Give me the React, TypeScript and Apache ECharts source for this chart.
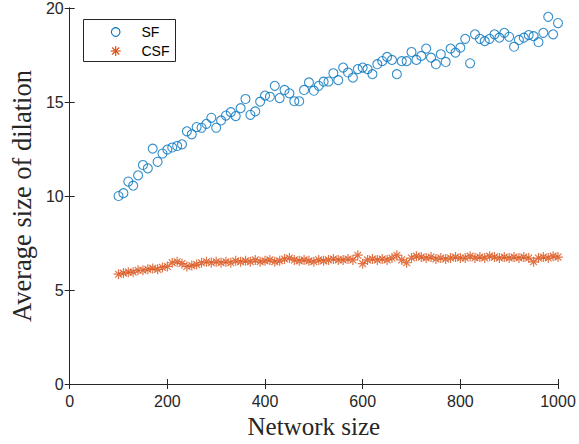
import React, { useEffect, useRef } from "react";
import * as echarts from "echarts";

const networkSizes = [
  100, 110, 120, 130, 140, 150, 160, 170, 180, 190,
  200, 210, 220, 230, 240, 250, 260, 270, 280, 290,
  300, 310, 320, 330, 340, 350, 360, 370, 380, 390,
  400, 410, 420, 430, 440, 450, 460, 470, 480, 490,
  500, 510, 520, 530, 540, 550, 560, 570, 580, 590,
  600, 610, 620, 630, 640, 650, 660, 670, 680, 690,
  700, 710, 720, 730, 740, 750, 760, 770, 780, 790,
  800, 810, 820, 830, 840, 850, 860, 870, 880, 890,
  900, 910, 920, 930, 940, 950, 960, 970, 980, 990,
  1000,
];

const sfValues = [
  10.0, 10.15, 10.77, 10.55, 11.1, 11.65, 11.47, 12.52, 11.82, 12.26,
  12.47, 12.58, 12.66, 12.75, 13.44, 13.28, 13.67, 13.63, 13.84, 14.16,
  13.63, 14.02, 14.28, 14.46, 14.25, 14.67, 15.16, 14.32, 14.5, 15.02,
  15.34, 15.28, 15.86, 15.21, 15.64, 15.46, 15.04, 15.04, 15.64, 16.04,
  15.6, 15.86, 16.08, 16.09, 16.53, 16.16, 16.83, 16.57, 16.3, 16.75,
  16.83, 16.75, 16.48, 17.01, 17.18, 17.4, 17.24, 16.48, 17.17, 17.17,
  17.66, 17.24, 17.45, 17.84, 17.36, 17.01, 17.54, 17.13, 17.84, 17.63,
  17.89, 18.36, 17.06, 18.6, 18.36, 18.24, 18.36, 18.6, 18.42, 18.68,
  18.47, 17.94, 18.3, 18.42, 18.56, 18.5, 18.18, 18.68, 19.53, 18.6,
  19.2,
];

const csfValues = [
  5.84, 5.9, 5.95, 5.95, 6.05, 6.05, 6.1, 6.15, 6.1, 6.2,
  6.25, 6.45, 6.5, 6.4, 6.25, 6.3, 6.35, 6.45, 6.5, 6.45,
  6.5, 6.45, 6.5, 6.45, 6.55, 6.5, 6.55, 6.5, 6.6, 6.5,
  6.55, 6.6, 6.5, 6.55, 6.65, 6.7, 6.6, 6.55, 6.6, 6.55,
  6.5, 6.6, 6.55, 6.6, 6.65, 6.6, 6.6, 6.65, 6.6, 6.85,
  6.4, 6.6, 6.65, 6.6, 6.65, 6.6, 6.7, 6.85, 6.6, 6.45,
  6.7, 6.8, 6.75, 6.7, 6.75, 6.65, 6.7, 6.65, 6.7, 6.75,
  6.7, 6.7, 6.8, 6.7, 6.75, 6.7, 6.8, 6.75, 6.7, 6.75,
  6.7, 6.75, 6.7, 6.75, 6.7, 6.5, 6.7, 6.75, 6.7, 6.8,
  6.75,
];

const xTicks = { min: 0, max: 1000, interval: 200 };
const yTicks = { min: 0, max: 20, interval: 5 };
const seriesNames = ["SF", "CSF"];

const SF_COLOR = "#0072BD";
const CSF_COLOR = "#D95319";
const AXIS_COLOR = "#262626";
const ASTERISK =
  "path://M5,0 L5,10 M0,5 L10,5 M1.6,1.6 L8.4,8.4 M1.6,8.4 L8.4,1.6";

export default function App() {
  const ref = useRef<HTMLDivElement>(null);

  useEffect(() => {
    if (!ref.current) return;
    const chart = echarts.init(ref.current, undefined, { renderer: "svg" });

    const axisLine = { show: true, lineStyle: { color: AXIS_COLOR, width: 1 } };
    const tick = { show: true, inside: true, length: 5, lineStyle: { color: AXIS_COLOR } };
    const label = {
      fontFamily: "Liberation Sans",
      fontSize: 16,
      color: AXIS_COLOR,
      formatter: (v: number) => String(v),
    };

    const lx = 115.7;
    const legendGraphic = {
      type: "group",
      children: [
        {
          type: "rect",
          shape: { x: 83.5, y: 19.5, width: 92, height: 42 },
          style: { fill: "#fff", stroke: AXIS_COLOR, lineWidth: 1 },
        },
        {
          type: "circle",
          shape: { cx: lx, cy: 32, r: 4.3 },
          style: { fill: "none", stroke: SF_COLOR, lineWidth: 1.1 },
        },
        {
          type: "line",
          shape: { x1: lx, y1: 46, x2: lx, y2: 56 },
          style: { stroke: CSF_COLOR, lineWidth: 1.2 },
        },
        {
          type: "line",
          shape: { x1: lx - 5, y1: 51, x2: lx + 5, y2: 51 },
          style: { stroke: CSF_COLOR, lineWidth: 1.2 },
        },
        {
          type: "line",
          shape: { x1: lx - 3.5, y1: 47.5, x2: lx + 3.5, y2: 54.5 },
          style: { stroke: CSF_COLOR, lineWidth: 1.2 },
        },
        {
          type: "line",
          shape: { x1: lx - 3.5, y1: 54.5, x2: lx + 3.5, y2: 47.5 },
          style: { stroke: CSF_COLOR, lineWidth: 1.2 },
        },
        {
          type: "text",
          x: 141.5,
          y: 32,
          style: {
            text: seriesNames[0],
            fontFamily: "Liberation Sans",
            fontSize: 14,
            fill: "#000",
            verticalAlign: "middle",
          },
        },
        {
          type: "text",
          x: 141.5,
          y: 51,
          style: {
            text: seriesNames[1],
            fontFamily: "Liberation Sans",
            fontSize: 14,
            fill: "#000",
            verticalAlign: "middle",
          },
        },
      ],
    };

    chart.setOption({
      animation: false,
      backgroundColor: "#fff",
      grid: { left: 68, right: 21, top: 5, bottom: 60, containLabel: false },
      xAxis: [
        {
          type: "value",
          position: "bottom",
          ...xTicks,
          axisLine,
          axisTick: tick,
          axisLabel: { ...label, margin: 9 },
          splitLine: { show: false },
          name: "Network size",
          nameLocation: "middle",
          nameGap: 28,
          nameTextStyle: {
            fontFamily: "Liberation Serif",
            fontSize: 25,
            color: AXIS_COLOR,
          },
        },
        {
          type: "value",
          position: "top",
          ...xTicks,
          axisLine,
          axisTick: tick,
          axisLabel: { show: false },
          splitLine: { show: false },
        },
      ],
      yAxis: [
        {
          type: "value",
          position: "left",
          ...yTicks,
          axisLine,
          axisTick: tick,
          axisLabel: { ...label, margin: 6 },
          splitLine: { show: false },
          name: "Average size of dilation",
          nameLocation: "middle",
          nameGap: 33,
          nameTextStyle: {
            fontFamily: "Liberation Serif",
            fontSize: 26.5,
            color: AXIS_COLOR,
          },
        },
        {
          type: "value",
          position: "right",
          ...yTicks,
          axisLine,
          axisTick: tick,
          axisLabel: { show: false },
          splitLine: { show: false },
        },
      ],
      series: [
        {
          name: seriesNames[0],
          type: "scatter",
          symbol: "circle",
          symbolSize: 9,
          itemStyle: { color: "transparent", borderColor: SF_COLOR, borderWidth: 1.1 },
          data: networkSizes.map((x, i) => [x, sfValues[i]]),
          z: 3,
        },
        {
          name: seriesNames[1],
          type: "scatter",
          symbol: ASTERISK,
          symbolSize: 10,
          itemStyle: { color: "transparent", borderColor: CSF_COLOR, borderWidth: 1.2 },
          data: networkSizes.map((x, i) => [x, csfValues[i]]),
          z: 2,
        },
      ],
      graphic: [legendGraphic],
    });

    return () => chart.dispose();
  }, []);

  return <div ref={ref} style={{ width: 579, height: 444, position: "absolute", left: 0, top: 0 }} />;
}
